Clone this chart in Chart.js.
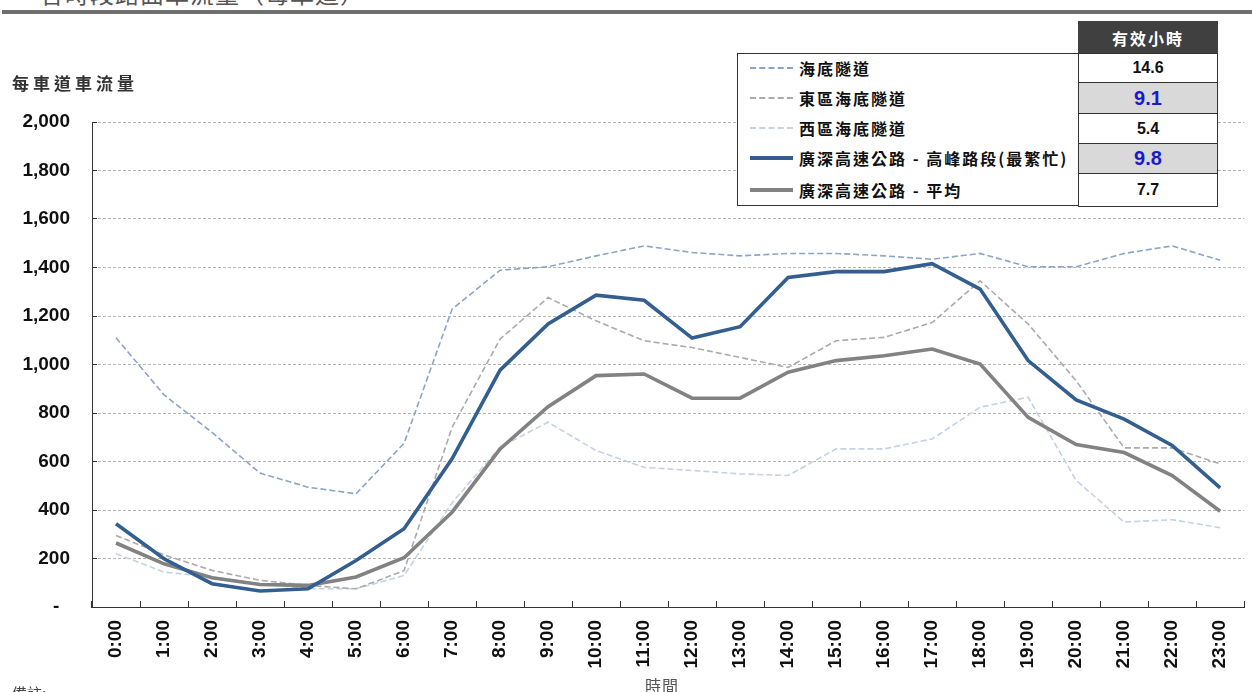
<!DOCTYPE html>
<html>
<head>
<meta charset="utf-8">
<script src="https://cdn.jsdelivr.net/npm/chart.js@4.4.1/dist/chart.umd.min.js"></script>
<style>
  html, body { margin: 0; padding: 0; background: #fff; }
  body { width: 1252px; height: 692px; overflow: hidden; position: relative; font-family: 'Noto Sans CJK TC', sans-serif; }
  .abs { position: absolute; }
  #title { left: 40px; top: -21px; font-size: 24px; line-height: 28px; color: #555; letter-spacing: 1px; white-space: nowrap; }
  #rule { left: 2px; top: 10px; width: 1250px; height: 4px; background: #6f6f6f; }
  #ytitle { left: 12px; top: 70px; font-size: 17px; font-weight: bold; color: #333; letter-spacing: 4px; white-space: nowrap; }
  #xtitle { left: 645px; top: 673px; font-size: 16px; color: #555; letter-spacing: 1px; }
  #note { left: 12px; top: 682px; font-size: 15px; color: #444; }
  #wrap { left: 0; top: 0; width: 1262px; height: 692px; }
  #legbox { left: 737px; top: 53px; width: 342px; height: 153px; border: 1px solid #333; box-sizing: border-box; background: #fff; }
  #leghead { left: 1078px; top: 21px; width: 140px; height: 33px; background: #404040; color: #fff; font-weight: bold; font-size: 16px; letter-spacing: 2px;
             display: flex; align-items: center; justify-content: center; box-sizing: border-box; }
  .lrow { position: absolute; left: 0; width: 340px; height: 30px; display: flex; align-items: center; }
  .lsample { width: 43px; margin-left: 12px; margin-right: 6px; height: 0; }
  .ltext { font-size: 16px; font-weight: bold; color: #111; letter-spacing: 2px; white-space: nowrap; }
  .vcell { position: absolute; left: 1078px; width: 140px; border: 1px solid #333; box-sizing: border-box;
           display: flex; align-items: center; justify-content: center; font-family: 'Liberation Sans', Arial, sans-serif; font-weight: bold; }
</style>
</head>
<body>
<div id="title" class="abs">各時段路面車流量（每車道）</div>
<div id="rule" class="abs"></div>
<div id="wrap" class="abs"><canvas id="chart"></canvas></div>
<div id="ytitle" class="abs">每車道車流量</div>
<div id="xtitle" class="abs">時間</div>
<div id="note" class="abs">備註:</div>
<div id="legbox" class="abs"></div>
<div id="leghead" class="abs">有效小時</div>
<script>
// ── Data ──────────────────────────────────────────────────────────────────────
const hours = ['0:00','1:00','2:00','3:00','4:00','5:00','6:00','7:00','8:00','9:00','10:00','11:00',
               '12:00','13:00','14:00','15:00','16:00','17:00','18:00','19:00','20:00','21:00','22:00','23:00'];

const seriesNames = ['海底隧道', '東區海底隧道', '西區海底隧道', '廣深高速公路 - 高峰路段(最繁忙)', '廣深高速公路 - 平均'];
const effectiveHours = [14.6, 9.1, 5.4, 9.8, 7.7];

const crossHarbour = [1110, 875, 720, 552, 494, 467, 675, 1228, 1389, 1403, 1448, 1489, 1462, 1448, 1458, 1458, 1448, 1434, 1458, 1403, 1403, 1458, 1489, 1430];
const eastern      = [295, 215, 151, 110, 89, 75, 150, 740, 1105, 1276, 1180, 1098, 1070, 1029, 988, 1098, 1112, 1173, 1345, 1167, 933, 656, 656, 590];
const western      = [220, 144, 124, 96, 75, 75, 130, 430, 659, 762, 645, 576, 563, 549, 542, 652, 652, 693, 824, 865, 522, 350, 360, 327];
const gsPeak       = [343, 199, 96, 66, 75, 192, 323, 611, 977, 1167, 1286, 1265, 1109, 1156, 1359, 1383, 1383, 1416, 1311, 1016, 854, 775, 666, 491];
const gsAverage    = [264, 178, 121, 93, 89, 124, 203, 391, 652, 826, 954, 961, 861, 861, 968, 1016, 1036, 1064, 1002, 782, 670, 637, 542, 395];

const seriesData = [crossHarbour, eastern, western, gsPeak, gsAverage];

// ── Styles ────────────────────────────────────────────────────────────────────
const seriesStyle = [
    { color: '#8aa5c8', width: 1.6, dash: [6, 3] },
    { color: '#ababab', width: 1.6, dash: [6, 3] },
    { color: '#c3d2e6', width: 1.6, dash: [6, 3] },
    { color: '#335e90', width: 3.6, dash: [] },
    { color: '#828282', width: 3.6, dash: [] },
];
const valueStyle = [
    { bg: '#fff',    color: '#111',    size: 16 },
    { bg: '#d9d9d9', color: '#1a1acc', size: 20 },
    { bg: '#fff',    color: '#111',    size: 16 },
    { bg: '#d9d9d9', color: '#1a1acc', size: 20 },
    { bg: '#fff',    color: '#111',    size: 16 },
];

// ── Legend + effective-hours table ───────────────────────────────────────────
const rowTops = [53, 82, 113, 143, 173, 206];
const legbox = document.getElementById('legbox');
seriesNames.forEach((name, i) => {
    const s = seriesStyle[i];
    const row = document.createElement('div');
    row.className = 'lrow';
    row.style.top = (rowTops[i] - 54) + 'px';
    row.style.height = (rowTops[i + 1] - rowTops[i]) + 'px';
    const sample = document.createElement('div');
    sample.className = 'lsample';
    sample.style.borderTop = s.dash.length ? `2px dashed ${s.color}` : `4px solid ${s.color}`;
    const txt = document.createElement('span');
    txt.className = 'ltext';
    txt.textContent = name;
    row.append(sample, txt);
    legbox.appendChild(row);

    const v = valueStyle[i];
    const cell = document.createElement('div');
    cell.className = 'vcell';
    cell.style.top = rowTops[i] + 'px';
    cell.style.height = (rowTops[i + 1] - rowTops[i] + 1) + 'px';
    cell.style.background = v.bg;
    cell.style.color = v.color;
    cell.style.fontSize = v.size + 'px';
    cell.textContent = effectiveHours[i].toFixed(1);
    document.body.appendChild(cell);
});

// ── Chart ─────────────────────────────────────────────────────────────────────
const tickFont = { family: "'Liberation Sans', Arial, sans-serif", size: 19, weight: 'bold' };

new Chart(document.getElementById('chart'), {
    type: 'line',
    data: {
        labels: hours,
        datasets: seriesNames.map((name, i) => ({
            label: name,
            data: seriesData[i],
            borderColor: seriesStyle[i].color,
            backgroundColor: seriesStyle[i].color,
            borderWidth: seriesStyle[i].width,
            borderDash: seriesStyle[i].dash,
            pointRadius: 0,
            tension: 0,
            fill: false,
            order: i >= 3 ? i - 3 : i + 2,
        })),
    },
    options: {
        responsive: true, maintainAspectRatio: false, animation: false,
        layout: { padding: { top: 122, right: 1, left: 0, bottom: 0 } },
        plugins: { legend: { display: false }, tooltip: { enabled: false } },
        scales: {
            x: {
                offset: true,
                grid: { offset: true, drawOnChartArea: false, drawTicks: true, tickLength: -6, tickColor: '#333', tickWidth: 1 },
                border: { color: '#333', width: 1 },
                ticks: { color: '#111', font: tickFont, minRotation: 90, maxRotation: 90, autoSkip: false, padding: 19 },
                afterFit: s => { s.height = 85; },
            },
            y: {
                min: 0, max: 2000,
                grid: { color: '#b5b5b5', lineWidth: 1, tickLength: -5, tickColor: '#333', tickWidth: 1, tickBorderDash: [] },
                border: { color: '#333', width: 1, dash: [3, 2] },
                ticks: { stepSize: 200, color: '#111', font: tickFont, padding: 27,
                         callback: v => v === 0 ? '-  ' : v.toLocaleString('en-US') },
                afterFit: s => { s.width = 92; },
            },
        },
    },
});
</script>
</body>
</html>
